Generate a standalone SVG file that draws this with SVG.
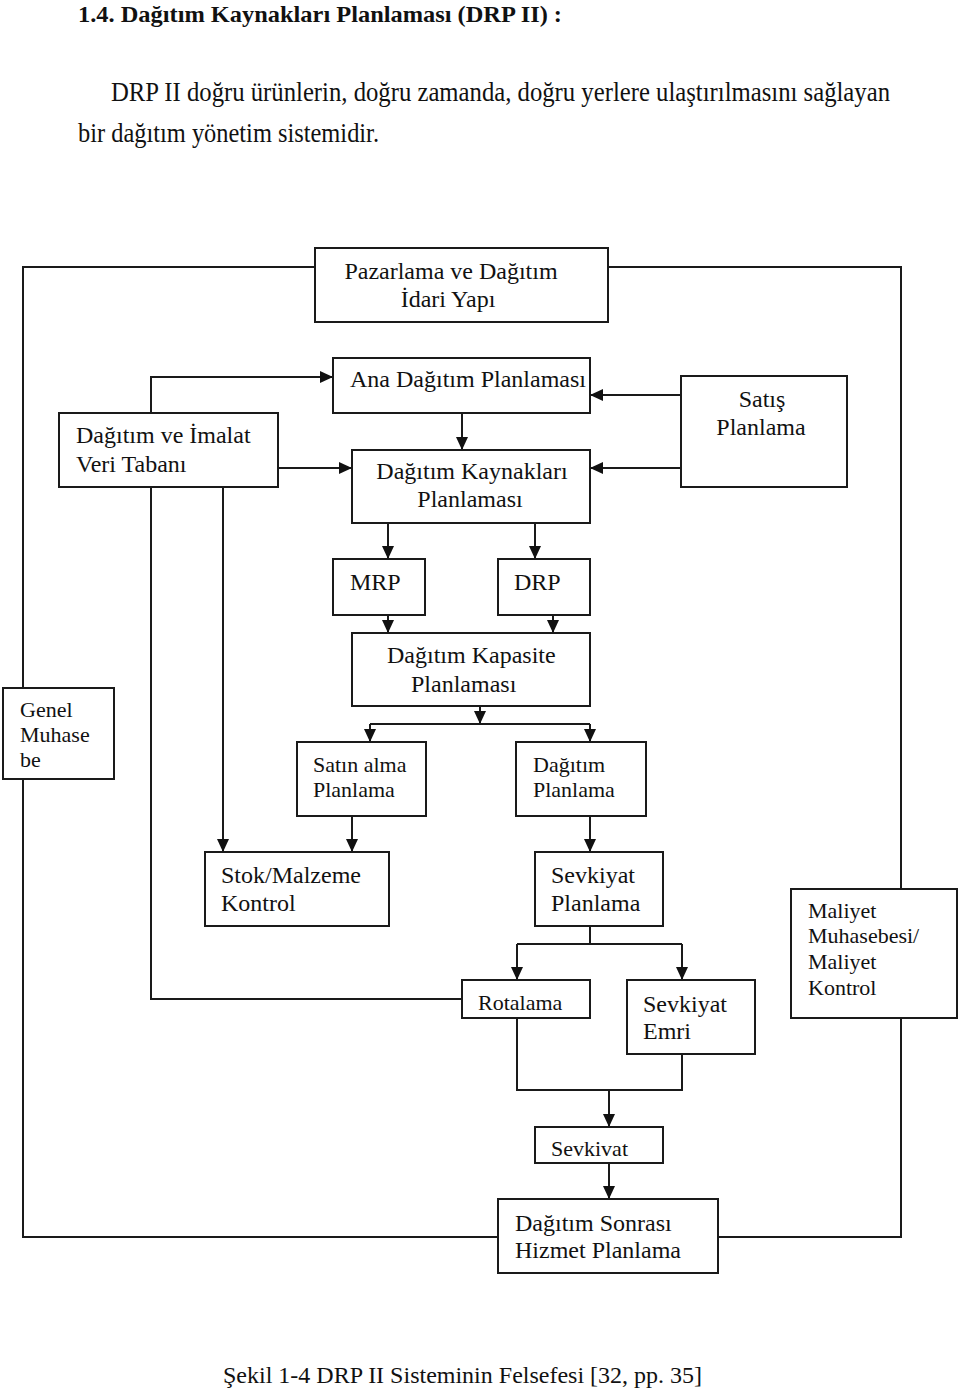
<svg xmlns="http://www.w3.org/2000/svg" width="960" height="1392" viewBox="0 0 960 1392">
<style>
  .box { fill: #ffffff; stroke: #1a1a1a; stroke-width: 2; }
  .ln { fill: none; stroke: #1a1a1a; stroke-width: 2; }
  .t24 { font-family: "Liberation Serif", "Times New Roman", serif; font-size: 24px; fill: #111; }
  .t22 { font-family: "Liberation Serif", "Times New Roman", serif; font-size: 22px; fill: #111; }
  .hdr { font-family: "Liberation Serif", "Times New Roman", serif; font-size: 27px; fill: #111; }
  .ttl { font-family: "Liberation Serif", "Times New Roman", serif; font-size: 24px; font-weight: bold; fill: #111; }
  .mid { text-anchor: middle; }
</style>
<defs>
  <marker id="ah" markerWidth="13" markerHeight="12" refX="13" refY="6" orient="auto" markerUnits="userSpaceOnUse">
    <path d="M0,0 L13,6 L0,12 z" fill="#111"/>
  </marker>
</defs>
<rect x="0" y="0" width="960" height="1392" fill="#ffffff"/>

<g id="header">
  <text class="ttl" x="78" y="22" textLength="484" lengthAdjust="spacingAndGlyphs">1.4. Dağıtım Kaynakları Planlaması (DRP II) :</text>
  <text class="hdr" x="111" y="101" textLength="779" lengthAdjust="spacingAndGlyphs">DRP II doğru ürünlerin, doğru zamanda, doğru yerlere ulaştırılmasını sağlayan</text>
  <text class="hdr" x="78" y="142" textLength="301" lengthAdjust="spacingAndGlyphs">bir dağıtım yönetim sistemidir.</text>
</g>

<g id="connectors">
  <polyline class="ln" points="315,267 23,267 23,1237 498,1237"/>
  <polyline class="ln" points="608,267 901,267 901,1237 718,1237"/>
  <polyline class="ln" points="151,413 151,377 333,377" marker-end="url(#ah)"/>
  <line class="ln" x1="278" y1="468" x2="352" y2="468" marker-end="url(#ah)"/>
  <line class="ln" x1="681" y1="395" x2="590" y2="395" marker-end="url(#ah)"/>
  <line class="ln" x1="681" y1="468" x2="590" y2="468" marker-end="url(#ah)"/>
  <line class="ln" x1="462" y1="413" x2="462" y2="450" marker-end="url(#ah)"/>
  <line class="ln" x1="388" y1="523" x2="388" y2="559" marker-end="url(#ah)"/>
  <line class="ln" x1="535" y1="523" x2="535" y2="559" marker-end="url(#ah)"/>
  <line class="ln" x1="388" y1="615" x2="388" y2="633" marker-end="url(#ah)"/>
  <line class="ln" x1="553" y1="615" x2="553" y2="633" marker-end="url(#ah)"/>
  <line class="ln" x1="480" y1="706" x2="480" y2="724" marker-end="url(#ah)"/>
  <line class="ln" x1="370" y1="724" x2="590" y2="724"/>
  <line class="ln" x1="370" y1="724" x2="370" y2="742" marker-end="url(#ah)"/>
  <line class="ln" x1="590" y1="724" x2="590" y2="742" marker-end="url(#ah)"/>
  <line class="ln" x1="352" y1="816" x2="352" y2="852" marker-end="url(#ah)"/>
  <line class="ln" x1="223" y1="487" x2="223" y2="852" marker-end="url(#ah)"/>
  <line class="ln" x1="590" y1="816" x2="590" y2="852" marker-end="url(#ah)"/>
  <polyline class="ln" points="151,487 151,999 462,999"/>
  <line class="ln" x1="590" y1="926" x2="590" y2="944"/>
  <line class="ln" x1="517" y1="944" x2="682" y2="944"/>
  <line class="ln" x1="517" y1="944" x2="517" y2="980" marker-end="url(#ah)"/>
  <line class="ln" x1="682" y1="944" x2="682" y2="980" marker-end="url(#ah)"/>
  <polyline class="ln" points="517,1018 517,1090 682,1090 682,1054"/>
  <line class="ln" x1="609" y1="1090" x2="609" y2="1127" marker-end="url(#ah)"/>
  <line class="ln" x1="609" y1="1163" x2="609" y2="1199" marker-end="url(#ah)"/>
</g>

<g id="pazarlama">
  <rect class="box" x="315" y="248" width="293" height="74"/>
  <text class="t24 mid" x="451" y="279">Pazarlama ve Dağıtım</text>
  <text class="t24 mid" x="448" y="307">İdari Yapı</text>
</g>
<g id="ana-dagitim">
  <rect class="box" x="333" y="358" width="257" height="55"/>
  <text class="t24" x="350" y="387">Ana Dağıtım Planlaması</text>
</g>
<g id="veri-tabani">
  <rect class="box" x="59" y="413" width="219" height="74"/>
  <text class="t24" x="76" y="443">Dağıtım ve İmalat</text>
  <text class="t24" x="76" y="472">Veri Tabanı</text>
</g>
<g id="dkp">
  <rect class="box" x="352" y="450" width="238" height="73"/>
  <text class="t24 mid" x="472" y="479">Dağıtım Kaynakları</text>
  <text class="t24 mid" x="470" y="507">Planlaması</text>
</g>
<g id="satis">
  <rect class="box" x="681" y="376" width="166" height="111"/>
  <text class="t24 mid" x="762" y="407">Satış</text>
  <text class="t24 mid" x="761" y="435">Planlama</text>
</g>
<g id="mrp">
  <rect class="box" x="333" y="559" width="92" height="56"/>
  <text class="t24" x="350" y="590">MRP</text>
</g>
<g id="drp">
  <rect class="box" x="498" y="559" width="92" height="56"/>
  <text class="t24" x="514" y="590">DRP</text>
</g>
<g id="kapasite">
  <rect class="box" x="352" y="633" width="238" height="73"/>
  <text class="t24" x="387" y="663">Dağıtım Kapasite</text>
  <text class="t24" x="411" y="692">Planlaması</text>
</g>
<g id="genel-muhasebe">
  <rect class="box" x="3" y="688" width="111" height="91"/>
  <text class="t22" x="20" y="717">Genel</text>
  <text class="t22" x="20" y="742">Muhase</text>
  <text class="t22" x="20" y="767">be</text>
</g>
<g id="satin-alma">
  <rect class="box" x="297" y="742" width="129" height="74"/>
  <text class="t22" x="313" y="772">Satın alma</text>
  <text class="t22" x="313" y="797">Planlama</text>
</g>
<g id="dagitim-planlama">
  <rect class="box" x="516" y="742" width="130" height="74"/>
  <text class="t22" x="533" y="772">Dağıtım</text>
  <text class="t22" x="533" y="797">Planlama</text>
</g>
<g id="stok">
  <rect class="box" x="205" y="852" width="184" height="74"/>
  <text class="t24" x="221" y="883">Stok/Malzeme</text>
  <text class="t24" x="221" y="911">Kontrol</text>
</g>
<g id="sevkiyat-planlama">
  <rect class="box" x="535" y="852" width="128" height="74"/>
  <text class="t24" x="551" y="883">Sevkiyat</text>
  <text class="t24" x="551" y="911">Planlama</text>
</g>
<g id="maliyet">
  <rect class="box" x="791" y="889" width="166" height="129"/>
  <text class="t22" x="808" y="918">Maliyet</text>
  <text class="t22" x="808" y="943">Muhasebesi/</text>
  <text class="t22" x="808" y="969">Maliyet</text>
  <text class="t22" x="808" y="995">Kontrol</text>
</g>
<g id="rotalama">
  <rect class="box" x="462" y="980" width="128" height="38"/>
  <text class="t22" x="478" y="1010">Rotalama</text>
</g>
<g id="sevkiyat-emri">
  <rect class="box" x="627" y="980" width="128" height="74"/>
  <text class="t24" x="643" y="1012">Sevkiyat</text>
  <text class="t24" x="643" y="1039">Emri</text>
</g>
<g id="sevkivat">
  <rect class="box" x="535" y="1127" width="128" height="36"/>
  <text class="t22" x="551" y="1156">Sevkivat</text>
</g>
<g id="dagitim-sonrasi">
  <rect class="box" x="498" y="1199" width="220" height="74"/>
  <text class="t24" x="515" y="1231">Dağıtım Sonrası</text>
  <text class="t24" x="515" y="1258">Hizmet Planlama</text>
</g>

<g id="caption">
  <text class="t24" x="223" y="1383">Şekil 1-4 DRP II Sisteminin Felsefesi [32, pp. 35]</text>
</g>
</svg>
